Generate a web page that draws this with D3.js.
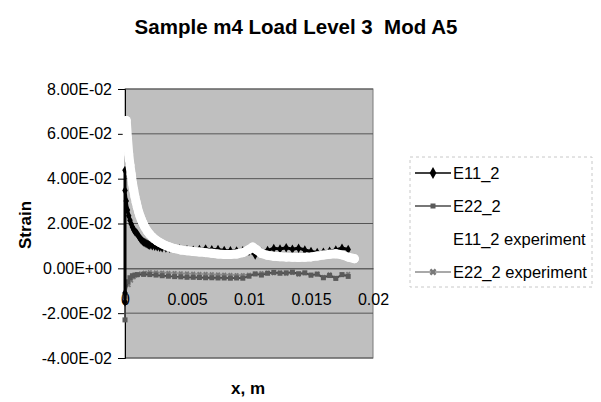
<!DOCTYPE html>
<html>
<head>
<meta charset="utf-8">
<script src="https://cdn.jsdelivr.net/npm/d3@7"></script>
<style>
  body { margin: 0; background: #fff; }
  text { font-family: "Liberation Sans", Arial, sans-serif; fill: #000; }
</style>
</head>
<body>
<div id="chart"></div>
<script>
// values (x in m, strain)
var e11 = [[0, -0.011], [0, -0.015], [0, 0.0437], [0, 0.0347], [0.0001, 0.03], [0.0002, 0.026],
  [0.0003, 0.0235], [0.0004, 0.0214], [0.0005, 0.0198], [0.0006, 0.0184], [0.0007, 0.0172],
  [0.0008, 0.0164], [0.0009, 0.0159], [0.001, 0.0153], [0.0011, 0.0143], [0.0012, 0.0135],
  [0.0013, 0.0127], [0.0014, 0.0122], [0.0015, 0.0118], [0.0016, 0.0115], [0.0017, 0.0111],
  [0.0018, 0.0108], [0.0019, 0.0105], [0.002, 0.0103], [0.0022, 0.0101], [0.0024, 0.0099],
  [0.0026, 0.0096], [0.0028, 0.0094], [0.003, 0.0092], [0.0033, 0.0091], [0.0036, 0.009],
  [0.004, 0.0089], [0.0044, 0.0086], [0.005, 0.0083], [0.0055, 0.0081], [0.006, 0.0084],
  [0.0065, 0.0086], [0.007, 0.0083], [0.0075, 0.0084], [0.008, 0.008], [0.0085, 0.0078],
  [0.009, 0.0077], [0.0095, 0.0078], [0.01, 0.0076], [0.0105, 0.006], [0.011, 0.0072],
  [0.0115, 0.008], [0.012, 0.0089], [0.0125, 0.0086], [0.013, 0.0092], [0.0135, 0.0085],
  [0.014, 0.009], [0.0145, 0.0082], [0.015, 0.0075], [0.0155, 0.0071], [0.016, 0.0072],
  [0.0165, 0.0076], [0.017, 0.0082], [0.0175, 0.009], [0.018, 0.0084]];

var e22 = [[0, -0.023], [0, -0.0125], [0.0002, -0.006], [0.0004, -0.0042], [0.0006, -0.0033],
  [0.0008, -0.003], [0.001, -0.0028], [0.0015, -0.0027], [0.002, -0.0028], [0.0025, -0.003],
  [0.003, -0.0033], [0.0035, -0.0035], [0.004, -0.0037], [0.0045, -0.0038], [0.005, -0.004],
  [0.0055, -0.004], [0.006, -0.0041], [0.0065, -0.0042], [0.007, -0.0042], [0.0075, -0.0043],
  [0.008, -0.0043], [0.0085, -0.0044], [0.009, -0.0043], [0.0095, -0.0044], [0.01, -0.0035],
  [0.0105, -0.0025], [0.011, -0.003], [0.0115, -0.0022], [0.012, -0.0018], [0.0125, -0.0022],
  [0.013, -0.002], [0.0135, -0.0017], [0.014, -0.0024], [0.0145, -0.002], [0.015, -0.003],
  [0.0155, -0.0026], [0.016, -0.0042], [0.0165, -0.0032], [0.017, -0.0045], [0.0175, -0.0028],
  [0.018, -0.0036]];

var e11exp = [[0.0001, 0.066], [0.0002, 0.058], [0.0003, 0.051], [0.0004, 0.046], [0.0005, 0.042],
  [0.0006, 0.038], [0.0007, 0.035], [0.0008, 0.032], [0.0009, 0.0295], [0.001, 0.0272],
  [0.0011, 0.0252], [0.0012, 0.0235], [0.0013, 0.022], [0.0014, 0.0207], [0.0015, 0.0195],
  [0.0016, 0.0184], [0.0018, 0.0166], [0.002, 0.0152], [0.0022, 0.014], [0.0024, 0.013],
  [0.0026, 0.0122], [0.0028, 0.0115], [0.003, 0.0109], [0.0033, 0.0101], [0.0036, 0.0095],
  [0.004, 0.0088], [0.0045, 0.0082], [0.005, 0.0078], [0.0055, 0.0075], [0.006, 0.0073],
  [0.0065, 0.007], [0.007, 0.0067], [0.0075, 0.0064], [0.008, 0.0062], [0.0085, 0.0062],
  [0.009, 0.0064], [0.0095, 0.007], [0.01, 0.0084], [0.0103, 0.0095], [0.0106, 0.0083],
  [0.011, 0.0066], [0.0115, 0.0058], [0.012, 0.0054], [0.0125, 0.0052], [0.013, 0.005],
  [0.0135, 0.0049], [0.014, 0.0048], [0.0145, 0.0049], [0.015, 0.0051], [0.0155, 0.0055],
  [0.016, 0.0059], [0.0165, 0.0063], [0.017, 0.0065], [0.0175, 0.006], [0.018, 0.005],
  [0.0185, 0.0043]];

var e22exp = [[0.0003, -0.0075], [0.0005, -0.0055], [0.0007, -0.004], [0.001, -0.003],
  [0.0013, -0.0023], [0.0016, -0.0019], [0.002, -0.0017], [0.0025, -0.0018], [0.003, -0.0019],
  [0.0035, -0.002], [0.004, -0.0021], [0.0045, -0.0022], [0.005, -0.0023], [0.0055, -0.0024],
  [0.006, -0.0025], [0.0065, -0.0025], [0.007, -0.0026], [0.0075, -0.0027], [0.008, -0.0028],
  [0.0085, -0.0029], [0.009, -0.003], [0.0095, -0.003], [0.01, -0.0028], [0.0105, -0.0024],
  [0.011, -0.0021], [0.0115, -0.0019], [0.012, -0.0022], [0.0125, -0.0017], [0.013, -0.0025],
  [0.0135, -0.002], [0.014, -0.0028], [0.0145, -0.0021], [0.015, -0.0033], [0.0155, -0.0024],
  [0.016, -0.0038], [0.0165, -0.0026], [0.017, -0.0042], [0.0175, -0.003], [0.018, -0.0025]];

var yTicks = [-0.04, -0.02, 0, 0.02, 0.04, 0.06, 0.08];
var yLabels = ["-4.00E-02", "-2.00E-02", "0.00E+00", "2.00E-02", "4.00E-02", "6.00E-02", "8.00E-02"];
var xTicks = [0, 0.005, 0.01, 0.015, 0.02];
var xLabels = ["0", "0.005", "0.01", "0.015", "0.02"];
var seriesNames = ["E11_2", "E22_2", "E11_2 experiment", "E22_2 experiment"];

var W = 601, H = 402;
var svg = d3.select("#chart").append("svg")
  .attr("width", W)
  .attr("height", H);

var x = d3.scaleLinear().domain([0, 0.02]).range([125, 373]);
var y = d3.scaleLinear().domain([-0.04, 0.08]).range([358, 89]);

// plot area
svg.append("rect")
  .attr("x", x(0)).attr("y", y(0.08))
  .attr("width", x(0.02) - x(0)).attr("height", y(-0.04) - y(0.08))
  .attr("fill", "#bfbfbf")
  .attr("stroke", "#7a7a7a").attr("stroke-width", 1);

// gridlines
svg.selectAll(".grid")
  .data(yTicks.filter(function (d) { return d !== 0; }))
  .enter().append("line")
  .attr("class", "grid")
  .attr("x1", x(0)).attr("x2", x(0.02))
  .attr("y1", function (d) { return y(d); })
  .attr("y2", function (d) { return y(d); })
  .attr("stroke", "#555").attr("stroke-width", 1);

// y axis
var yAxis = d3.axisLeft(y).tickValues(yTicks).tickSize(7).tickPadding(6)
  .tickFormat(function (d, i) { return yLabels[i]; });
var gy = svg.append("g").attr("transform", "translate(" + x(0) + ",0)").call(yAxis);
gy.select(".domain").attr("stroke", "#000");
gy.selectAll("text").style("font-size", "16px").attr("fill", "#000");

// x axis through zero
var xAxis = d3.axisBottom(x).tickValues(xTicks).tickSize(0).tickPadding(25)
  .tickFormat(function (d, i) { return xLabels[i]; });
var gx = svg.append("g").attr("transform", "translate(0," + y(0) + ")").call(xAxis);
gx.select(".domain").attr("stroke", "#333");
gx.selectAll("text").style("font-size", "16px").attr("fill", "#000");

var line = d3.line()
  .x(function (d) { return x(d[0]); })
  .y(function (d) { return y(d[1]); });

// E22_2 experiment
svg.append("path").datum(e22exp)
  .attr("d", line).attr("fill", "none")
  .attr("stroke", "#8c8c8c").attr("stroke-width", 1.5);
svg.selectAll(".m22e").data(e22exp).enter().append("path")
  .attr("class", "m22e")
  .attr("transform", function (d) { return "translate(" + x(d[0]) + "," + y(d[1]) + ") rotate(45)"; })
  .attr("d", d3.symbol().type(d3.symbolCross).size(14))
  .attr("fill", "#7a7a7a");

// E22_2
svg.append("path").datum(e22)
  .attr("d", line).attr("fill", "none")
  .attr("stroke", "#4a4a4a").attr("stroke-width", 1.8);
svg.selectAll(".m22").data(e22).enter().append("rect")
  .attr("class", "m22")
  .attr("x", function (d) { return x(d[0]) - 2.5; })
  .attr("y", function (d) { return y(d[1]) - 2.5; })
  .attr("width", 5).attr("height", 5)
  .attr("fill", "#5a5a5a");

// E11_2
svg.append("path").datum(e11)
  .attr("d", line).attr("fill", "none")
  .attr("stroke", "#000").attr("stroke-width", 3);
svg.selectAll(".m11").data(e11).enter().append("path")
  .attr("class", "m11")
  .attr("transform", function (d) { return "translate(" + x(d[0]) + "," + y(d[1]) + ")"; })
  .attr("d", d3.symbol().type(d3.symbolDiamond).size(26))
  .attr("fill", "#000");

// E11_2 experiment (white band)
svg.append("path").datum(e11exp)
  .attr("d", line).attr("fill", "none")
  .attr("stroke", "#fff").attr("stroke-width", 9)
  .attr("stroke-linejoin", "round").attr("stroke-linecap", "round");
svg.selectAll(".m11e").data(e11exp).enter().append("circle")
  .attr("class", "m11e")
  .attr("cx", function (d) { return x(d[0]); })
  .attr("cy", function (d) { return y(d[1]); })
  .attr("r", 4.5)
  .attr("fill", "#fff");

// titles
svg.append("text")
  .attr("x", 296).attr("y", 34)
  .attr("text-anchor", "middle")
  .style("white-space", "pre")
  .style("font-size", "20.5px").style("font-weight", "bold")
  .text("Sample m4 Load Level 3  Mod A5");

svg.append("text")
  .attr("transform", "translate(31,225) rotate(-90)")
  .attr("text-anchor", "middle")
  .style("font-size", "17px").style("font-weight", "bold")
  .text("Strain");

svg.append("text")
  .attr("x", 248).attr("y", 394)
  .attr("text-anchor", "middle")
  .style("font-size", "17px").style("font-weight", "bold")
  .text("x, m");

// legend
var legend = svg.append("g");
legend.append("rect")
  .attr("x", 410).attr("y", 157).attr("width", 182).attr("height", 130)
  .attr("fill", "none").attr("stroke", "#c8c8c8").attr("stroke-width", 1)
  .attr("stroke-dasharray", "3,3");

var legY = d3.scalePoint().domain(seriesNames).range([173, 272]);
var legStroke = ["#000", "#4a4a4a", "#fff", "#8c8c8c"];

legend.selectAll(".lline").data(seriesNames).enter().append("line")
  .attr("class", "lline")
  .attr("x1", 415).attr("x2", 451)
  .attr("y1", function (d) { return legY(d); })
  .attr("y2", function (d) { return legY(d); })
  .attr("stroke", function (d, i) { return legStroke[i]; })
  .attr("stroke-width", 1.5);

legend.append("path")
  .attr("transform", "translate(433," + legY(seriesNames[0]) + ")")
  .attr("d", d3.symbol().type(d3.symbolDiamond).size(40)).attr("fill", "#000");
legend.append("rect")
  .attr("x", 430.5).attr("y", legY(seriesNames[1]) - 2.5)
  .attr("width", 5).attr("height", 5).attr("fill", "#5a5a5a");
legend.append("path")
  .attr("transform", "translate(433," + legY(seriesNames[3]) + ") rotate(45)")
  .attr("d", d3.symbol().type(d3.symbolCross).size(30)).attr("fill", "#7a7a7a");

legend.selectAll(".ltext").data(seriesNames).enter().append("text")
  .attr("class", "ltext")
  .attr("x", 453)
  .attr("y", function (d) { return legY(d); })
  .attr("dy", "0.35em")
  .style("font-size", "16.5px")
  .text(function (d) { return d; });
</script>
</body>
</html>
